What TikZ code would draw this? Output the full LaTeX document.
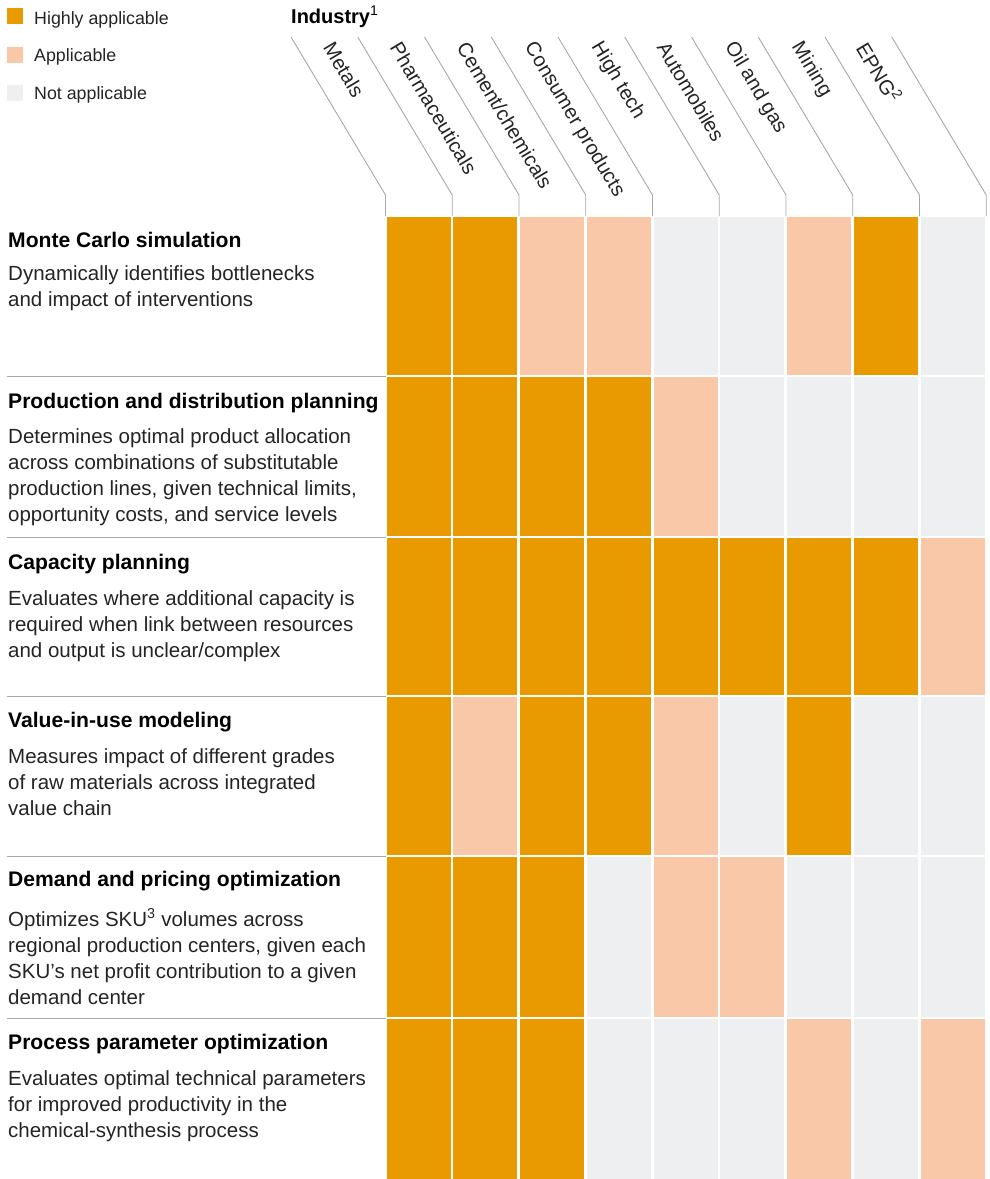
\documentclass[tikz,border=0pt]{standalone}
\usepackage{fontspec}
\setmainfont{Liberation Sans}
\usepackage{color}

\begin{document}
\begin{tikzpicture}[x=1pt,y=-1pt,
	rule/.style={draw=rulegray,line width=0.9pt},
	keytext/.style={inner sep=0pt,anchor=base west,font=\fontsize{17.8}{22}\selectfont,text=textgray},
	industry/.style={inner sep=0pt,anchor=west,rotate=-59.1,font=\fontsize{20.2}{24}\selectfont,text=textgray},
	heading/.style={inner sep=0pt,anchor=base west,font=\fontsize{21.1}{24}\selectfont\bfseries},
	blurb/.style={inner sep=0pt,anchor=north west,align=left,font=\fontsize{20.5}{26}\selectfont,text=textgray}]
	\definecolor{cellh}{RGB}{233,154,0}
	\definecolor{cella}{RGB}{248,200,168}
	\definecolor{celln}{RGB}{238,239,241}
	\definecolor{rulegray}{RGB}{168,168,168}
	\definecolor{textgray}{RGB}{36,36,36}

	\useasboundingbox (0,0) rectangle (989,1179);

	\fill[cellh] (7,8) rectangle (23,24);
	\fill[cella] (7,46.5) rectangle (23,62.5);
	\fill[celln] (7,84.5) rectangle (23,100.5);
	\node[keytext] (high) at (34,24) {Highly applicable};
	\node[keytext] (appl) at (34,61.5) {Applicable};
	\node[keytext] (none) at (34,99) {Not applicable};

	\node[inner sep=0pt,anchor=base west,font=\fontsize{20}{24}\selectfont] (industry) at (291,23) {\textbf{Industry}\textsuperscript{1}};

	\foreach \i in {0,...,9}
		\draw[rule] ({291+66.75*\i},37) -- ({385.5+66.75*\i},195) -- ({385.5+66.75*\i},216);

	\node[industry] (metals) at (328.6,44) {Metals};
	\node[industry] (pharma) at (395.35,44) {Pharmaceuticals};
	\node[industry] (cement) at (462.1,44) {Cement/chemicals};
	\node[industry] (consumer) at (528.85,44) {Consumer products};
	\node[industry] (hightech) at (595.6,44) {High tech};
	\node[industry] (auto) at (662.35,44) {Automobiles};
	\node[industry] (oilgas) at (729.1,44) {Oil and gas};
	\node[industry] (mining) at (795.85,44) {Mining};
	\node[industry] (epng) at (862.6,44) {EPNG\textsuperscript{2}};

	\foreach \top/\bot/\codes in {216/376/{h,h,a,a,n,n,a,h,n},
			376/537.5/{h,h,h,h,a,n,n,n,n},
			537.5/696/{h,h,h,h,h,h,h,h,a},
			696/856/{h,a,h,h,a,n,h,n,n},
			856/1018/{h,h,h,n,a,a,n,n,n},
			1018/1180/{h,h,h,n,n,n,a,n,a}}
		\foreach \c [count=\i from 0] in \codes
			\fill[cell\c] ({386.6+66.75*\i},\top+0.8) rectangle ({450.6+66.75*\i},\bot-1.2);

	\foreach \y in {376,537.5,696,856,1018}
		\draw[rule] (7,\y) -- (386,\y);

	\node[heading] (monte) at (8,247) {Monte Carlo simulation};
	\node[blurb] (montetxt) at (8,265) {Dynamically identifies bottlenecks\\and impact of interventions};

	\node[heading] (prod) at (8,408) {Production and distribution planning};
	\node[blurb] (prodtxt) at (8,428.5) {Determines optimal product allocation\\across combinations of substitutable\\production lines, given technical limits,\\opportunity costs, and service levels};

	\node[heading] (capa) at (8,569.5) {Capacity planning};
	\node[blurb] (capatxt) at (8,590) {Evaluates where additional capacity is\\required when link between resources\\and output is unclear/complex};

	\node[heading] (value) at (8,727.5) {Value-in-use modeling};
	\node[blurb] (valuetxt) at (8,748.5) {Measures impact of different grades\\of raw materials across integrated\\value chain};

	\node[heading] (demand) at (8,886.5) {Demand and pricing optimization};
	\node[blurb] (demandtxt) at (8,908.5) {Optimizes SKU\textsuperscript{3} volumes across\\regional production centers, given each\\SKU’s net profit contribution to a given\\demand center};

	\node[heading] (process) at (8,1049.5) {Process parameter optimization};
	\node[blurb] (processtxt) at (8,1070.5) {Evaluates optimal technical parameters\\for improved productivity in the\\chemical-synthesis process};
\end{tikzpicture}
\end{document}
